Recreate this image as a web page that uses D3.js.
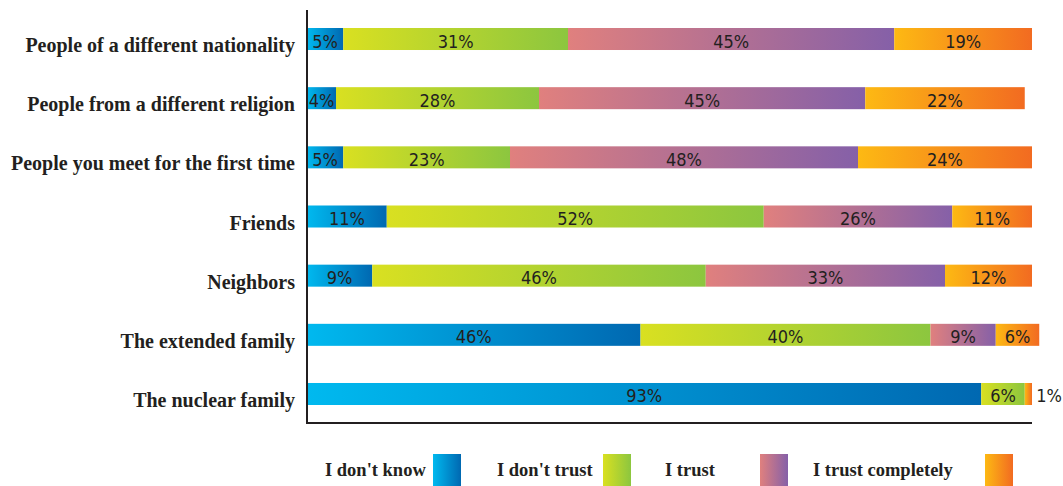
<!DOCTYPE html>
<html><head><meta charset="utf-8">
<script src="https://cdn.jsdelivr.net/npm/d3@7"></script>
<style>body{margin:0;background:#fff}</style>
</head><body>
<svg id="c" width="1063" height="486"></svg>
<script>
const categories = ["People of a different nationality","People from a different religion","People you meet for the first time","Friends","Neighbors","The extended family","The nuclear family"];
const series = ["I don't know","I don't trust","I trust","I trust completely"];
const dontKnow = [5,4,5,11,9,46,93];
const dontTrust = [31,28,23,52,46,40,6];
const trust = [45,45,48,26,33,9,0];
const trustCompletely = [19,22,24,11,12,6,1];
const values = [dontKnow, dontTrust, trust, trustCompletely];
const gradStops = [["#00b9ef","#0068b1"],["#d9e021","#8cc63f"],["#e0807e","#8560a8"],["#fdb913","#f26b21"]];

const svg = d3.select("#c");
const m = {left:307};
const x = d3.scaleLinear().domain([0,100]).range([m.left, m.left+725]);
const y = d3.scaleBand().domain(categories).range([28, 405]).paddingInner(0.628).paddingOuter(0);

const defs = svg.append("defs");
gradStops.forEach((g,i)=>{
  const lg = defs.append("linearGradient").attr("id","g"+i).attr("x1","0%").attr("x2","100%").attr("y1","0").attr("y2","0");
  lg.append("stop").attr("offset","0%").attr("stop-color",g[0]);
  lg.append("stop").attr("offset","100%").attr("stop-color",g[1]);
});

const valFont = "'Liberation Sans Narrow', 'Arial Narrow', 'DejaVu Sans Condensed', sans-serif";
categories.forEach((c,ci)=>{
  let acc = 0;
  values.forEach((arr,si)=>{
    const v = arr[ci];
    if (v <= 0) return;
    const x0 = x(acc), x1 = x(acc+v);
    svg.append("rect").attr("x",x0).attr("y",y(c)).attr("width",x1-x0).attr("height",y.bandwidth()).attr("fill","url(#g"+si+")");
    const inside = (x1-x0) > 20;
    svg.append("text")
      .attr("x", inside ? (x0+x1)/2 : x1+17)
      .attr("y", y(c)+19.5)
      .attr("text-anchor","middle")
      .attr("font-family",valFont)
      .attr("font-size",18)
      .attr("fill","#231f20")
      .text(v+"%");
    acc += v;
  });
  svg.append("text").attr("x",295).attr("y",y(c)+y.bandwidth()+2)
    .attr("text-anchor","end").attr("font-family","'Liberation Serif', 'Times New Roman', serif")
    .attr("font-weight","bold").attr("font-size",20).attr("fill","#231f20").text(c);
});

// axes lines
svg.append("line").attr("x1",m.left).attr("x2",m.left).attr("y1",10).attr("y2",424).attr("stroke","#231f20").attr("stroke-width",2);
svg.append("line").attr("x1",m.left-1).attr("x2",x(100)).attr("y1",423).attr("y2",423).attr("stroke","#231f20").attr("stroke-width",2);

// legend
const legTextX = [325,497,665,813];
const legSwX = [433,603,760,985];
series.forEach((s,i)=>{
  svg.append("text").attr("x",legTextX[i]).attr("y",476)
    .attr("font-family","'Liberation Serif', 'Times New Roman', serif").attr("font-weight","bold")
    .attr("font-size",18.5).attr("fill","#231f20").text(s);
  svg.append("rect").attr("x",legSwX[i]).attr("y",454).attr("width",28).attr("height",32).attr("fill","url(#g"+i+")");
});
</script>
</body></html>
